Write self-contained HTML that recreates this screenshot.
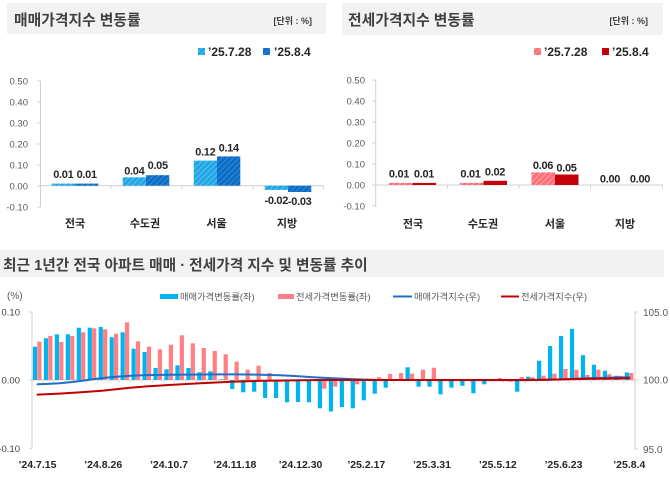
<!DOCTYPE html>
<html><head><meta charset="utf-8"><style>
html,body{margin:0;padding:0;background:#fff;}
svg{display:block;}
text{font-family:"Liberation Sans","Noto Sans CJK KR",sans-serif;}
</style></head><body>
<svg width="670" height="477" viewBox="0 0 670 477" xmlns="http://www.w3.org/2000/svg">
<defs>
<pattern id="hb1" patternUnits="userSpaceOnUse" width="4" height="4" patternTransform="rotate(45)"><rect width="4" height="4" fill="#1DA5E5"/><rect width="1.3" height="4" fill="#52BDEE"/></pattern>
<pattern id="hb2" patternUnits="userSpaceOnUse" width="4" height="4" patternTransform="rotate(45)"><rect width="4" height="4" fill="#0A6CC5"/><rect width="1.3" height="4" fill="#2E84D2"/></pattern>
<pattern id="hr1" patternUnits="userSpaceOnUse" width="4" height="4" patternTransform="rotate(45)"><rect width="4" height="4" fill="#FF6B74"/><rect width="1.3" height="4" fill="#FF9CA2"/></pattern>
</defs>
<rect width="670" height="477" fill="#fff"/>

<!-- ===== Top-left panel ===== -->
<rect x="7" y="3" width="319" height="31" fill="#F2F2F2"/>
<text x="14" y="25" font-size="14.8" font-weight="bold" fill="#404040">매매가격지수 변동률</text>
<text x="312" y="24" font-size="9" font-weight="bold" fill="#404040" text-anchor="end">[단위 : %]</text>
<rect x="198" y="48" width="7" height="7" fill="url(#hb1)"/>
<text x="208" y="56" font-size="12" font-weight="bold" fill="#262626">’25.7.28</text>
<rect x="263" y="48" width="7" height="7" fill="url(#hb2)"/>
<text x="274" y="56" font-size="12" font-weight="bold" fill="#262626">’25.8.4</text>
<g font-size="9.5" fill="#595959" text-anchor="end">
<text x="28" y="84.5">0.50</text><text x="28" y="105.5">0.40</text><text x="28" y="126.5">0.30</text><text x="28" y="147.5">0.20</text><text x="28" y="168.5">0.10</text><text x="28" y="189.5">0.00</text><text x="28" y="210.5">-0.10</text>
</g>
<g stroke="#D0D0D0" stroke-width="1">
<line x1="40.5" y1="81" x2="40.5" y2="207"/>
<line x1="37" y1="81" x2="40.5" y2="81"/><line x1="37" y1="102" x2="40.5" y2="102"/><line x1="37" y1="123" x2="40.5" y2="123"/><line x1="37" y1="144" x2="40.5" y2="144"/><line x1="37" y1="165" x2="40.5" y2="165"/><line x1="37" y1="186" x2="40.5" y2="186"/><line x1="37" y1="207" x2="40.5" y2="207"/>
<line x1="40" y1="185.7" x2="324" y2="185.7"/>
<line x1="111" y1="185.7" x2="111" y2="189"/><line x1="182" y1="185.7" x2="182" y2="189"/><line x1="253" y1="185.7" x2="253" y2="189"/><line x1="323.5" y1="185.7" x2="323.5" y2="189"/>
</g>
<rect x="51.7" y="183.6" width="23.3" height="2.1" fill="url(#hb1)"/>
<rect x="75" y="183.6" width="23.3" height="2.1" fill="url(#hb2)"/>
<rect x="122.7" y="177.3" width="23.3" height="8.4" fill="url(#hb1)"/>
<rect x="146" y="175.2" width="23.3" height="10.5" fill="url(#hb2)"/>
<rect x="193.7" y="160.6" width="23.3" height="25.1" fill="url(#hb1)"/>
<rect x="217" y="156.4" width="23.3" height="29.3" fill="url(#hb2)"/>
<rect x="264.7" y="185.7" width="23.3" height="4.2" fill="url(#hb1)"/>
<rect x="288" y="185.7" width="23.3" height="6.3" fill="url(#hb2)"/>
<g font-size="11" font-weight="bold" fill="#262626" text-anchor="middle" letter-spacing="-0.3">
<text x="63.3" y="178">0.01</text><text x="86.7" y="178">0.01</text>
<text x="134.3" y="174.7">0.04</text><text x="157.7" y="169">0.05</text>
<text x="205.3" y="155.7">0.12</text><text x="228.7" y="151.7">0.14</text>
<text x="276.3" y="204">-0.02</text><text x="299.7" y="205">-0.03</text>
</g>
<g font-size="11" font-weight="bold" fill="#262626" text-anchor="middle">
<text x="75" y="227">전국</text><text x="145" y="227">수도권</text><text x="216.5" y="227">서울</text><text x="287" y="227">지방</text>
</g>

<!-- ===== Top-right panel ===== -->
<rect x="342" y="3" width="321" height="32" fill="#F2F2F2"/>
<text x="348" y="25" font-size="14.8" font-weight="bold" fill="#404040">전세가격지수 변동률</text>
<text x="648" y="24" font-size="9" font-weight="bold" fill="#404040" text-anchor="end">[단위 : %]</text>
<rect x="534" y="48" width="7" height="7" fill="url(#hr1)"/>
<text x="544" y="56" font-size="12" font-weight="bold" fill="#262626">’25.7.28</text>
<rect x="602" y="48" width="7" height="7" fill="#C60009"/>
<text x="612" y="56" font-size="12" font-weight="bold" fill="#262626">’25.8.4</text>
<g font-size="9.5" fill="#595959" text-anchor="end">
<text x="365" y="83.5">0.50</text><text x="365" y="104.5">0.40</text><text x="365" y="125.5">0.30</text><text x="365" y="146.5">0.20</text><text x="365" y="167.5">0.10</text><text x="365" y="188.5">0.00</text><text x="365" y="209.5">-0.10</text>
</g>
<g stroke="#D0D0D0" stroke-width="1">
<line x1="375.7" y1="80" x2="375.7" y2="206"/>
<line x1="372" y1="80" x2="375.7" y2="80"/><line x1="372" y1="101" x2="375.7" y2="101"/><line x1="372" y1="122" x2="375.7" y2="122"/><line x1="372" y1="143" x2="375.7" y2="143"/><line x1="372" y1="164" x2="375.7" y2="164"/><line x1="372" y1="185" x2="375.7" y2="185"/><line x1="372" y1="206" x2="375.7" y2="206"/>
<line x1="375.7" y1="185" x2="663" y2="185"/>
<line x1="447.5" y1="185" x2="447.5" y2="188.5"/><line x1="519" y1="185" x2="519" y2="188.5"/><line x1="590.5" y1="185" x2="590.5" y2="188.5"/><line x1="662.5" y1="185" x2="662.5" y2="188.5"/>
</g>
<rect x="389" y="182.9" width="23.5" height="2.1" fill="url(#hr1)"/>
<rect x="412.5" y="182.9" width="23.5" height="2.1" fill="#C60009"/>
<rect x="460" y="182.9" width="23.5" height="2.1" fill="url(#hr1)"/>
<rect x="483.5" y="180.8" width="23.5" height="4.2" fill="#C60009"/>
<rect x="531.5" y="172.4" width="23.5" height="12.6" fill="url(#hr1)"/>
<rect x="555" y="174.5" width="23.5" height="10.5" fill="#C60009"/>
<g font-size="11" font-weight="bold" fill="#262626" text-anchor="middle" letter-spacing="-0.3">
<text x="399" y="177.3">0.01</text><text x="424" y="177.3">0.01</text>
<text x="470.5" y="177.3">0.01</text><text x="495" y="175.7">0.02</text>
<text x="543" y="169">0.06</text><text x="566.5" y="171.3">0.05</text>
<text x="610" y="182.3">0.00</text><text x="640" y="182.3">0.00</text>
</g>
<g font-size="11" font-weight="bold" fill="#262626" text-anchor="middle">
<text x="413" y="227.5">전국</text><text x="483" y="227.5">수도권</text><text x="555" y="227.5">서울</text><text x="625" y="227.5">지방</text>
</g>

<!-- ===== Bottom chart ===== -->
<rect x="0" y="250" width="664" height="27" fill="#F2F2F2"/>
<text x="3" y="270" font-size="14.7" font-weight="bold" fill="#404040">최근 1년간 전국 아파트 매매 · 전세가격 지수 및 변동률 추이</text>
<text x="7" y="299" font-size="10" fill="#595959">(%)</text>
<rect x="160" y="294" width="18" height="5" fill="#00B4F0"/>
<text x="180" y="300" font-size="9.3" fill="#595959">매매가격변동률(좌)</text>
<rect x="278" y="294" width="16" height="5" fill="#FF7F84"/>
<text x="296" y="300" font-size="9.3" fill="#595959">전세가격변동률(좌)</text>
<line x1="393" y1="296.5" x2="412" y2="296.5" stroke="#1F6FC8" stroke-width="2"/>
<text x="414" y="300" font-size="9.3" fill="#595959">매매가격지수(우)</text>
<line x1="501" y1="296.5" x2="519" y2="296.5" stroke="#C00000" stroke-width="2"/>
<text x="521" y="300" font-size="9.3" fill="#595959">전세가격지수(우)</text>

<g font-size="9.5" fill="#404040" text-anchor="end">
<text x="20" y="315.5">0.10</text><text x="20" y="383.5">0.00</text><text x="20" y="452">-0.10</text>
</g>
<g font-size="10" fill="#595959">
<text x="643" y="316">105.0</text><text x="643" y="383.5">100.0</text><text x="643" y="453">95.0</text>
</g>
<g stroke="#D0D0D0" stroke-width="1">
<line x1="32" y1="312" x2="32" y2="448.3"/>
<line x1="29" y1="312" x2="32" y2="312"/><line x1="29" y1="380" x2="32" y2="380"/><line x1="29" y1="448.3" x2="32" y2="448.3"/>
<line x1="635" y1="312" x2="635" y2="449"/>
<line x1="635" y1="312" x2="638" y2="312"/><line x1="635" y1="380" x2="638" y2="380"/><line x1="635" y1="449" x2="638" y2="449"/>
<line x1="32" y1="380" x2="635" y2="380"/>
</g>
<g stroke="#D0D0D0" stroke-width="0.8">
<line x1="42.96" y1="380" x2="42.96" y2="383"/><line x1="53.92" y1="380" x2="53.92" y2="383"/><line x1="64.88" y1="380" x2="64.88" y2="383"/><line x1="75.84" y1="380" x2="75.84" y2="383"/><line x1="86.8" y1="380" x2="86.8" y2="383"/><line x1="97.76" y1="380" x2="97.76" y2="383"/><line x1="108.72" y1="380" x2="108.72" y2="383"/><line x1="119.68" y1="380" x2="119.68" y2="383"/><line x1="130.64" y1="380" x2="130.64" y2="383"/><line x1="141.6" y1="380" x2="141.6" y2="383"/><line x1="152.56" y1="380" x2="152.56" y2="383"/><line x1="163.52" y1="380" x2="163.52" y2="383"/><line x1="174.48" y1="380" x2="174.48" y2="383"/><line x1="185.44" y1="380" x2="185.44" y2="383"/><line x1="196.4" y1="380" x2="196.4" y2="383"/><line x1="207.36" y1="380" x2="207.36" y2="383"/><line x1="218.32" y1="380" x2="218.32" y2="383"/><line x1="229.28" y1="380" x2="229.28" y2="383"/><line x1="240.24" y1="380" x2="240.24" y2="383"/><line x1="251.2" y1="380" x2="251.2" y2="383"/><line x1="262.16" y1="380" x2="262.16" y2="383"/><line x1="273.12" y1="380" x2="273.12" y2="383"/><line x1="284.08" y1="380" x2="284.08" y2="383"/><line x1="295.04" y1="380" x2="295.04" y2="383"/><line x1="306" y1="380" x2="306" y2="383"/><line x1="316.96" y1="380" x2="316.96" y2="383"/><line x1="327.92" y1="380" x2="327.92" y2="383"/><line x1="338.88" y1="380" x2="338.88" y2="383"/><line x1="349.84" y1="380" x2="349.84" y2="383"/><line x1="360.8" y1="380" x2="360.8" y2="383"/><line x1="371.76" y1="380" x2="371.76" y2="383"/><line x1="382.72" y1="380" x2="382.72" y2="383"/><line x1="393.68" y1="380" x2="393.68" y2="383"/><line x1="404.64" y1="380" x2="404.64" y2="383"/><line x1="415.6" y1="380" x2="415.6" y2="383"/><line x1="426.56" y1="380" x2="426.56" y2="383"/><line x1="437.52" y1="380" x2="437.52" y2="383"/><line x1="448.48" y1="380" x2="448.48" y2="383"/><line x1="459.44" y1="380" x2="459.44" y2="383"/><line x1="470.4" y1="380" x2="470.4" y2="383"/><line x1="481.36" y1="380" x2="481.36" y2="383"/><line x1="492.32" y1="380" x2="492.32" y2="383"/><line x1="503.28" y1="380" x2="503.28" y2="383"/><line x1="514.24" y1="380" x2="514.24" y2="383"/><line x1="525.2" y1="380" x2="525.2" y2="383"/><line x1="536.16" y1="380" x2="536.16" y2="383"/><line x1="547.12" y1="380" x2="547.12" y2="383"/><line x1="558.08" y1="380" x2="558.08" y2="383"/><line x1="569.04" y1="380" x2="569.04" y2="383"/><line x1="580" y1="380" x2="580" y2="383"/><line x1="590.96" y1="380" x2="590.96" y2="383"/><line x1="601.92" y1="380" x2="601.92" y2="383"/><line x1="612.88" y1="380" x2="612.88" y2="383"/><line x1="623.84" y1="380" x2="623.84" y2="383"/>
</g>

<!-- blue bars (sale change) -->
<g fill="#00B4F0">
<rect x="32.88" y="346.7" width="4.2" height="33.3"/>
<rect x="43.84" y="338.3" width="4.2" height="41.7"/>
<rect x="54.80" y="334.3" width="4.2" height="45.7"/>
<rect x="65.76" y="334.3" width="4.2" height="45.7"/>
<rect x="76.72" y="327.7" width="4.2" height="52.3"/>
<rect x="87.68" y="327.7" width="4.2" height="52.3"/>
<rect x="98.64" y="327" width="4.2" height="53"/>
<rect x="109.60" y="337.3" width="4.2" height="42.7"/>
<rect x="120.56" y="332.3" width="4.2" height="47.7"/>
<rect x="131.52" y="348.7" width="4.2" height="31.3"/>
<rect x="142.48" y="352" width="4.2" height="28"/>
<rect x="153.44" y="368" width="4.2" height="12"/>
<rect x="164.40" y="369.3" width="4.2" height="10.7"/>
<rect x="175.36" y="365.3" width="4.2" height="14.7"/>
<rect x="186.32" y="368" width="4.2" height="12"/>
<rect x="197.28" y="372.3" width="4.2" height="7.7"/>
<rect x="208.24" y="371.3" width="4.2" height="8.7"/>
<rect x="219.20" y="379.3" width="4.2" height="0.7"/>
<rect x="230.16" y="380" width="4.2" height="9"/>
<rect x="241.12" y="380" width="4.2" height="12.3"/>
<rect x="252.08" y="380" width="4.2" height="11.7"/>
<rect x="263.04" y="380" width="4.2" height="18"/>
<rect x="274.00" y="380" width="4.2" height="18"/>
<rect x="284.96" y="380" width="4.2" height="22.3"/>
<rect x="295.92" y="380" width="4.2" height="22"/>
<rect x="306.88" y="380" width="4.2" height="22.3"/>
<rect x="317.84" y="380" width="4.2" height="28.3"/>
<rect x="328.80" y="380" width="4.2" height="31.5"/>
<rect x="339.76" y="380" width="4.2" height="27"/>
<rect x="350.72" y="380" width="4.2" height="28.3"/>
<rect x="361.68" y="380" width="4.2" height="20.3"/>
<rect x="372.64" y="380" width="4.2" height="13.7"/>
<rect x="383.60" y="380" width="4.2" height="7.7"/>
<rect x="405.52" y="367.3" width="4.2" height="12.7"/>
<rect x="416.48" y="380" width="4.2" height="6.7"/>
<rect x="427.44" y="380" width="4.2" height="6.7"/>
<rect x="438.40" y="380" width="4.2" height="14.3"/>
<rect x="449.36" y="380" width="4.2" height="7.7"/>
<rect x="460.32" y="380" width="4.2" height="5.8"/>
<rect x="471.28" y="380" width="4.2" height="13.3"/>
<rect x="482.24" y="380" width="4.2" height="4.3"/>
<rect x="493.20" y="379.5" width="4.2" height="0.5"/>
<rect x="504.16" y="380" width="4.2" height="1"/>
<rect x="515.12" y="380" width="4.2" height="11.7"/>
<rect x="526.08" y="376.7" width="4.2" height="3.3"/>
<rect x="537.04" y="360.7" width="4.2" height="19.3"/>
<rect x="548.00" y="346" width="4.2" height="34"/>
<rect x="558.96" y="336" width="4.2" height="44"/>
<rect x="569.92" y="329" width="4.2" height="51"/>
<rect x="580.88" y="355.2" width="4.2" height="24.8"/>
<rect x="591.84" y="364.7" width="4.2" height="15.3"/>
<rect x="602.80" y="370.8" width="4.2" height="9.2"/>
<rect x="613.76" y="375.8" width="4.2" height="4.2"/>
<rect x="624.72" y="372.5" width="4.2" height="7.5"/>
</g>
<!-- red bars (jeonse change) -->
<g fill="#FF7F84">
<rect x="37.28" y="341.7" width="4.2" height="38.3"/>
<rect x="48.24" y="336" width="4.2" height="44"/>
<rect x="59.20" y="342" width="4.2" height="38"/>
<rect x="70.16" y="336" width="4.2" height="44"/>
<rect x="81.12" y="332.3" width="4.2" height="47.7"/>
<rect x="92.08" y="328.3" width="4.2" height="51.7"/>
<rect x="103.04" y="329.3" width="4.2" height="50.7"/>
<rect x="114.00" y="333.7" width="4.2" height="46.3"/>
<rect x="124.96" y="322.3" width="4.2" height="57.7"/>
<rect x="135.92" y="341.3" width="4.2" height="38.7"/>
<rect x="146.88" y="346.7" width="4.2" height="33.3"/>
<rect x="157.84" y="349.3" width="4.2" height="30.7"/>
<rect x="168.80" y="344.7" width="4.2" height="35.3"/>
<rect x="179.76" y="335.3" width="4.2" height="44.7"/>
<rect x="190.72" y="343.3" width="4.2" height="36.7"/>
<rect x="201.68" y="348" width="4.2" height="32"/>
<rect x="212.64" y="351" width="4.2" height="29"/>
<rect x="223.60" y="354.3" width="4.2" height="25.7"/>
<rect x="234.56" y="361.7" width="4.2" height="18.3"/>
<rect x="245.52" y="369.7" width="4.2" height="10.3"/>
<rect x="256.48" y="365.7" width="4.2" height="14.3"/>
<rect x="267.44" y="373" width="4.2" height="7"/>
<rect x="278.40" y="380" width="4.2" height="2"/>
<rect x="289.36" y="380" width="4.2" height="1.5"/>
<rect x="300.32" y="380" width="4.2" height="1"/>
<rect x="311.28" y="380" width="4.2" height="1"/>
<rect x="322.24" y="380" width="4.2" height="8.7"/>
<rect x="333.20" y="380" width="4.2" height="6.7"/>
<rect x="344.16" y="380" width="4.2" height="1"/>
<rect x="355.12" y="380" width="4.2" height="4.3"/>
<rect x="377.04" y="377.3" width="4.2" height="2.7"/>
<rect x="388.00" y="374" width="4.2" height="6"/>
<rect x="398.96" y="373" width="4.2" height="7"/>
<rect x="409.92" y="373.7" width="4.2" height="6.3"/>
<rect x="420.88" y="369.7" width="4.2" height="10.3"/>
<rect x="431.84" y="367.7" width="4.2" height="12.3"/>
<rect x="453.76" y="379" width="4.2" height="1"/>
<rect x="464.72" y="379.5" width="4.2" height="0.5"/>
<rect x="475.68" y="379.3" width="4.2" height="0.7"/>
<rect x="497.60" y="378" width="4.2" height="2"/>
<rect x="508.56" y="380" width="4.2" height="1.7"/>
<rect x="519.52" y="377" width="4.2" height="3"/>
<rect x="530.48" y="377.3" width="4.2" height="2.7"/>
<rect x="541.44" y="375.7" width="4.2" height="4.3"/>
<rect x="552.40" y="373.7" width="4.2" height="6.3"/>
<rect x="563.36" y="369" width="4.2" height="11"/>
<rect x="574.32" y="369.8" width="4.2" height="10.2"/>
<rect x="585.28" y="375" width="4.2" height="5"/>
<rect x="596.24" y="369.7" width="4.2" height="10.3"/>
<rect x="607.20" y="374.2" width="4.2" height="5.8"/>
<rect x="618.16" y="375.8" width="4.2" height="4.2"/>
<rect x="629.12" y="373" width="4.2" height="7"/>
</g>

<!-- index lines -->
<polyline fill="none" stroke="#1F6FC8" stroke-width="2" stroke-linejoin="round" stroke-linecap="round"
points="37.5,384.3 48,383.9 59.4,383.2 70,382.2 81.3,380.9 92,379.4 103.2,378 114,376.9 125.2,376.1 136,375.5 147,375.1 169,374.8 191,374.6 213,374.4 235,374.4 257,374.6 270,375 279,375.3 290,375.8 300.5,376.4 311,377.1 322.4,377.8 333,378.3 344.4,378.8 355,379.3 366.3,379.6 377,379.9 388,380 520,380.2 541.6,380 552,379.7 563.5,379.3 574,378.8 585.4,378.3 596,378 607.4,377.8 618,377.5 629.3,377.3"/>
<polyline fill="none" stroke="#C00000" stroke-width="2" stroke-linejoin="round" stroke-linecap="round"
points="37.5,394.6 59.4,393.6 81.3,392.2 103.2,390.6 125.2,388.2 147,386.4 169,385 191,383.8 213,382.6 235,381.6 257,380.9 279,380.5 300.5,380.2 322.4,380 520,380 541.6,379.8 563.5,379.4 585.4,378.9 607.4,378.5 629.3,378.2"/>

<!-- x labels -->
<g font-size="10.5" font-weight="bold" fill="#262626" text-anchor="middle">
<text x="37.5" y="468">’24.7.15</text>
<text x="103.2" y="468">’24.8.26</text>
<text x="169" y="468">’24.10.7</text>
<text x="234.8" y="468">’24.11.18</text>
<text x="300.5" y="468">’24.12.30</text>
<text x="366.3" y="468">’25.2.17</text>
<text x="432" y="468">’25.3.31</text>
<text x="497.8" y="468">’25.5.12</text>
<text x="563.5" y="468">’25.6.23</text>
<text x="629.3" y="468">’25.8.4</text>
</g>
</svg>
</body></html>
